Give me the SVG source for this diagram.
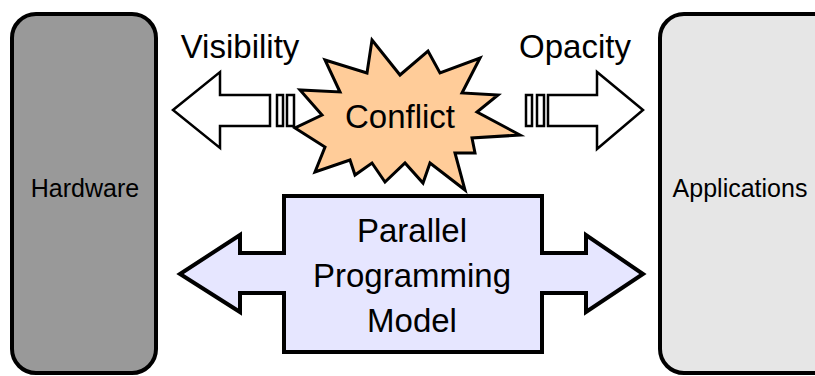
<svg xmlns="http://www.w3.org/2000/svg" width="815" height="376" viewBox="0 0 815 376">
<style>
text{font-family:"Liberation Sans",Arial,sans-serif;fill:#000;text-anchor:middle}
.big{font-size:33px}
.small{font-size:25px}
.box{stroke:#000;stroke-width:4}
.arr{fill:#fff;stroke:#000;stroke-width:2.5;stroke-linejoin:miter}
</style>
<rect width="815" height="376" fill="#fff"/>
<g id="hardware">
<rect class="box" x="12" y="14" width="144" height="359" rx="24" fill="#999999"/>
<text class="small" x="85" y="197">Hardware</text>
</g>
<g id="applications">
<rect class="box" x="660" y="14" width="200" height="359" rx="24" fill="#e6e6e6"/>
<text class="small" x="740" y="197">Applications</text>
</g>
<g id="connectors">
<polygon class="arr" points="173,110 220,72 220,95 270,95 270,126 220,126 220,148"/>
<rect class="arr" x="277" y="95" width="6" height="31"/>
<rect class="arr" x="287" y="95" width="7" height="31"/>
<text class="big" x="240" y="58">Visibility</text>
<polygon class="arr" points="643,110 597,72 597,95 548,95 548,126 597,126 597,149"/>
<rect class="arr" x="537" y="95" width="7" height="31"/>
<rect class="arr" x="526" y="95" width="6" height="31"/>
<text class="big" x="575" y="58">Opacity</text>
</g>
<g id="conflict">
<polygon points="372,40 400,75 428,51 440,73 480,58 462,93 498,95 477,112 520,135 472,138 475,153 455,153 465,190 430,163 423,183 405,163 385,182 372,163 355,175 350,160 315,172 325,147 295,128 322,115 300,90 340,92 325,60 367,73" fill="#ffcc99" stroke="#000" stroke-width="3" stroke-linejoin="miter"/>
<text class="big" x="400" y="128">Conflict</text>
</g>
<g id="ppm">
<polygon points="284,196 542,196 542,253 586,253 586,235 643,274 586,312 586,293 542,293 542,352 284,352 284,293 240,293 240,312 180,274 240,235 240,253 284,253" fill="#e6e6ff" stroke="#000" stroke-width="4"/>
<text class="big" x="412" y="242">Parallel</text>
<text class="big" x="412" y="287">Programming</text>
<text class="big" x="412" y="332">Model</text>
</g>
</svg>
